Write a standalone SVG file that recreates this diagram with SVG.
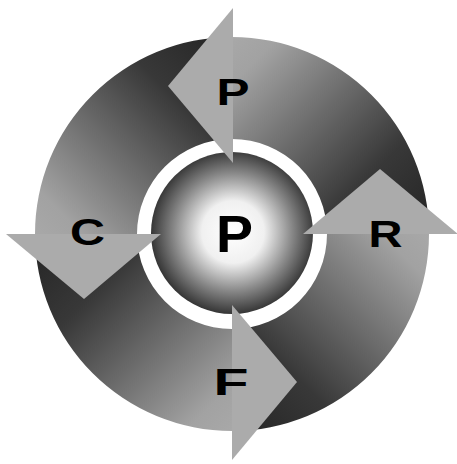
<svg xmlns="http://www.w3.org/2000/svg" width="457" height="464" viewBox="0 0 457 464">
  <style>
    .lbl { font-family: "Liberation Sans", Arial, sans-serif; font-weight: bold; fill: #000; text-anchor: middle; }
    .small { font-size: 37px; }
    .big { font-size: 51px; }
    .head { fill: #ababab; }
  </style>
  <defs>
    <linearGradient id="gRing" gradientUnits="userSpaceOnUse" x1="429" y1="234" x2="232" y2="37">
      <stop offset="0" stop-color="#242424"/>
      <stop offset="0.3" stop-color="#383838"/>
      <stop offset="0.62" stop-color="#727272"/>
      <stop offset="0.88" stop-color="#a2a2a2"/>
      <stop offset="1" stop-color="#a8a8a8"/>
    </linearGradient>
    <linearGradient id="gUR" href="#gRing" x1="429" y1="234" x2="232" y2="37"/>
    <linearGradient id="gUL" href="#gRing" x1="232" y1="37" x2="35" y2="234"/>
    <linearGradient id="gLL" href="#gRing" x1="35" y1="234" x2="232" y2="431"/>
    <linearGradient id="gLR" href="#gRing" x1="232" y1="431" x2="429" y2="234"/>
    <radialGradient id="gSphere" cx="233" cy="232" r="82" gradientUnits="userSpaceOnUse">
      <stop offset="0" stop-color="#fff"/>
      <stop offset="0.38" stop-color="#f0f0f0"/>
      <stop offset="0.72" stop-color="#888"/>
      <stop offset="1" stop-color="#363636"/>
    </radialGradient>
    <polygon id="arrowHead" points="0,-226 -65,-148 0,-71"/>
  </defs>

  <g id="connectors">
    <path fill="url(#gUR)" d="M232,37 A197,197 0 0 1 429,234 L327,234 A95,95 0 0 0 232,139 Z"/>
    <path fill="url(#gUL)" d="M35,234 A197,197 0 0 1 232,37 L232,139 A95,95 0 0 0 137,234 Z"/>
    <path fill="url(#gLL)" d="M232,431 A197,197 0 0 1 35,234 L137,234 A95,95 0 0 0 232,329 Z"/>
    <path fill="url(#gLR)" d="M429,234 A197,197 0 0 1 232,431 L232,329 A95,95 0 0 0 327,234 Z"/>
  </g>

  <g id="node-center">
    <circle cx="232" cy="233" r="81" fill="url(#gSphere)"/>
    <text class="lbl big" x="234.5" y="252" textLength="37" lengthAdjust="spacingAndGlyphs">P</text>
  </g>

  <g id="node-P">
    <use href="#arrowHead" class="head" transform="translate(233,234)"/>
    <text class="lbl small" x="233" y="105" textLength="33" lengthAdjust="spacingAndGlyphs">P</text>
  </g>

  <g id="node-R">
    <use href="#arrowHead" class="head" transform="translate(232,234) rotate(90)"/>
    <text class="lbl small" x="385.5" y="247" textLength="34" lengthAdjust="spacingAndGlyphs">R</text>
  </g>

  <g id="node-F">
    <use href="#arrowHead" class="head" transform="translate(232,234) rotate(180)"/>
    <text class="lbl small" x="231" y="395" textLength="35" lengthAdjust="spacingAndGlyphs">F</text>
  </g>

  <g id="node-C">
    <use href="#arrowHead" class="head" transform="translate(232,234) rotate(270)"/>
    <text class="lbl small" x="87.5" y="244.5" textLength="35" lengthAdjust="spacingAndGlyphs">C</text>
  </g>
</svg>
